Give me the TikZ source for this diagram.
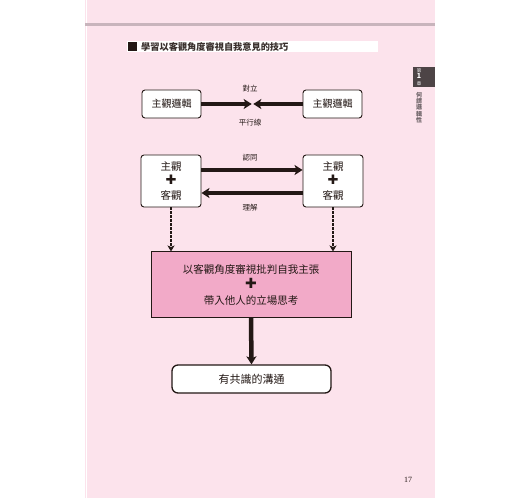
\documentclass[tikz,border=0pt]{standalone}
\usepackage{fontspec}
\setmainfont{Noto Sans CJK TC}
\newfontfamily\symfont{DejaVu Sans}
\newfontfamily\numfont{Liberation Serif}
\usepackage{tikz}
\usetikzlibrary{positioning,calc,arrows.meta,shadows}
\definecolor{pagepink}{HTML}{FCE3EC}
\definecolor{boxpink}{HTML}{F2AAC8}
\definecolor{inkdark}{HTML}{231815}
\definecolor{tabgray}{HTML}{4D4446}
\definecolor{bandgray}{HTML}{C8B4BC}
\definecolor{sidegray}{HTML}{6E6468}

\begin{document}
\begin{tikzpicture}[x=1pt, y=-1pt,
  box/.style={rectangle, rounded corners=3pt, draw=inkdark, fill=white,
    line width=0.9pt, align=center, inner sep=0pt, text=inkdark},
  logicbox/.style={box, minimum width=59pt, minimum height=28pt,
    font=\fontsize{10}{12}\selectfont},
  viewbox/.style={box, minimum width=60pt, minimum height=52pt,
    font=\fontsize{10.5}{14.5}\selectfont},
  fat/.style={draw=inkdark, line width=3.8pt,
    -{Stealth[length=8pt, width=10pt, inset=2pt]}},
  dashlink/.style={draw=inkdark, line width=1.6pt, dash pattern=on 2.5pt off 1.5pt,
    -{Stealth[length=6pt, width=7pt, inset=1.5pt]}},
  lbl/.style={font=\fontsize{7.5}{9}\selectfont, text=inkdark}
]
\useasboundingbox (0,0) rectangle (520,500);
% page
\fill[pagepink] (85,0) rectangle (435,498);
\draw[white, line width=0.8pt] (86.5,0) -- (86.5,498);
\draw[bandgray, line width=3.5pt] (85,24.5) -- (435,24.5);

% heading bar
\fill[white] (127,41) rectangle (378,52);
\fill[inkdark] (128,42) rectangle (137,51);
\node[anchor=west, inner sep=0pt, text=inkdark!90,
  font=\fontsize{9.2}{10}\selectfont\bfseries] (title) at (141,46.5)
  {學習以客觀角度審視自我意見的技巧};

% chapter tab
\fill[tabgray] (413,67) rectangle (435,87);
\node[text=white, align=center, inner sep=0pt,
  font=\fontsize{4.5}{6.5}\selectfont] (chap) at (419,77)
  {第\\{\fontsize{7}{7}\selectfont\bfseries 1}\\章};
\node[text=sidegray, align=center, inner sep=0pt,
  font=\fontsize{6}{6.3}\selectfont\bfseries] (side) at (419,107.5)
  {何\\謂\\邏\\輯\\性};

% row 1
\node[logicbox] (logicL) at (171.5,104) {主觀邏輯};
\node[logicbox] (logicR) at (332.5,104) {主觀邏輯};
\coordinate (meet) at (252.5,104);
\draw[fat] (logicL) -- ([xshift=-0.8pt]meet);
\draw[fat] (logicR) -- ([xshift=0.8pt]meet);
\node[lbl] (oppose) at (250,89) {對立};
\node[lbl] (parallel) at (250,123) {平行線};

% row 2
\node[viewbox] (viewL) at (171,181) {主觀\\{\symfont\fontsize{13}{13}\selectfont ✚}\\客觀};
\node[viewbox] (viewR) at (333,181) {主觀\\{\symfont\fontsize{13}{13}\selectfont ✚}\\客觀};
\draw[fat] ([yshift=11pt]viewL.east) -- ([yshift=11pt]viewR.west);
\draw[fat] ([yshift=-12pt]viewR.west) -- ([yshift=-12pt]viewL.east);
\node[lbl] (agree) at (250,158) {認同};
\node[lbl] (grasp) at (250,208) {理解};

% merged box
\node[rectangle, draw=inkdark, fill=boxpink, line width=1pt,
  minimum width=200pt, minimum height=65pt, align=center, text=inkdark,
  font=\fontsize{10.5}{15.5}\selectfont,
  drop shadow={shadow xshift=1.2pt, shadow yshift=-1.2pt, fill=inkdark!60}]
  (merge) at (251,284.5)
  {以客觀角度審視批判自我主張\\{\symfont\fontsize{14}{14}\selectfont ✚}\\帶入他人的立場思考};
\draw[dashlink] (viewL.south) -- (viewL.south |- merge.north);
\draw[dashlink] (viewR.south) -- (viewR.south |- merge.north);

% result
\node[box, rounded corners=6pt, line width=1.3pt, minimum width=159pt,
  minimum height=28pt, font=\fontsize{11}{13}\selectfont] (goal) at (251.5,379)
  {有共識的溝通};
\draw[fat, line width=4.5pt] (merge.south) -- (goal.north);

% folio
\node[font=\numfont\fontsize{8}{9}\selectfont, text=inkdark] (folio) at (408,480) {17};
\end{tikzpicture}
\end{document}
